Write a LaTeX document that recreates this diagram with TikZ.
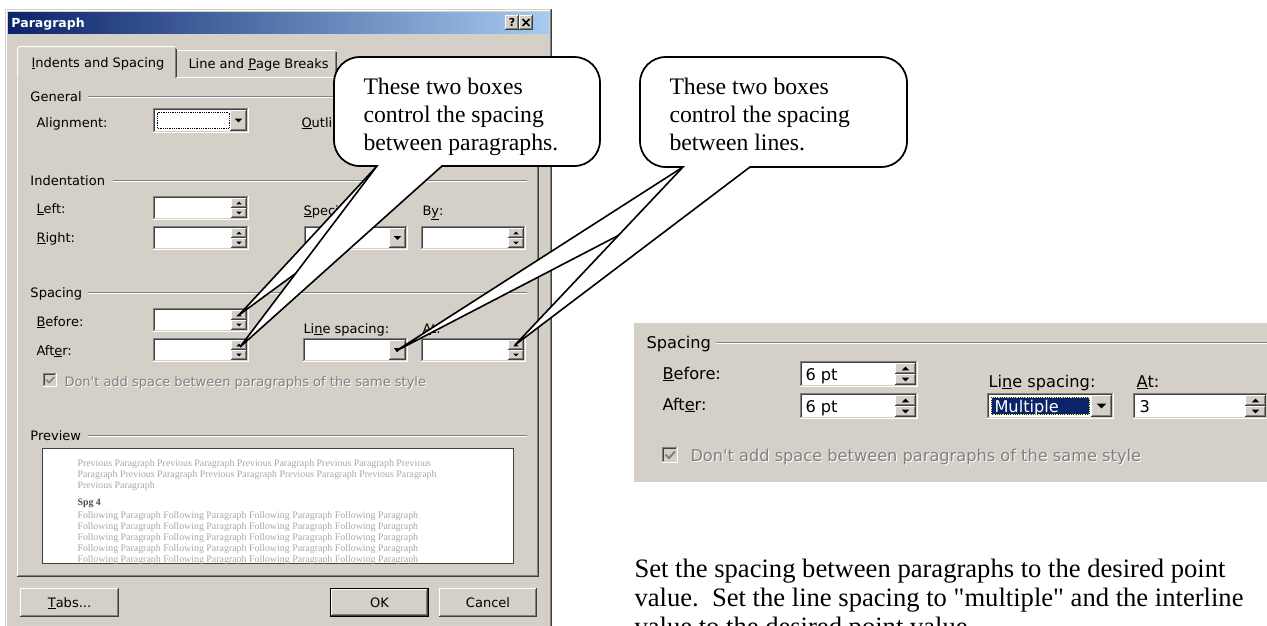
\documentclass[tikz,border=0pt]{standalone}
\usepackage{fontspec}
\setmainfont{Liberation Serif}
\newfontfamily\uifont{DejaVu Sans}
% plain family: straight typewriter quotes are kept as typed
\newfontfamily\bodyserif{Liberation Serif}

\definecolor{uiface}{HTML}{D4D0C8}
\definecolor{uishadow}{HTML}{808080}
\definecolor{uidark}{HTML}{404040}
\definecolor{titleL}{HTML}{0A246A}
\definecolor{titleR}{HTML}{A6CAF0}
\definecolor{selblue}{HTML}{0A246A}
\definecolor{prevgray}{HTML}{A8A8A8}

\tikzset{
  ui/.style={font=\uifont\fontsize{13}{15}\selectfont, inner sep=0pt, anchor=base west},
  uibig/.style={font=\uifont\fontsize{16.2}{19}\selectfont, inner sep=0pt, anchor=base west},
  uidis/.style={text=uishadow},
  note/.style={font=\fontsize{23.7}{28}\selectfont, inner sep=0pt, anchor=base west},
  body/.style={font=\bodyserif\fontsize{26.6}{30}\selectfont, inner sep=0pt, anchor=base west},
  prev/.style={font=\fontsize{9.9}{11}\selectfont, inner sep=0pt, anchor=base west, text=prevgray},
  balloon/.style={fill=white, draw=black, line width=1.6pt, line join=miter},
}

% classic raised 3D face: x1 y1 x2 y2 (pixel units, y downwards)
\newcommand\uiraised[4]{%
  \fill[uiface] ({#1},{#2}) rectangle ({#3},{#4});
  \draw[white] ({#1+.5},{#4-1}) -- ({#1+.5},{#2+.5}) -- ({#3-1},{#2+.5});
  \draw[uishadow] ({#1+1},{#4-1.5}) -- ({#3-1.5},{#4-1.5}) -- ({#3-1.5},{#2+1});
  \draw[uidark] ({#1},{#4-.5}) -- ({#3-.5},{#4-.5}) -- ({#3-.5},{#2});
}
% classic sunken field: x1 y1 x2 y2 fill
\newcommand\uisunken[5]{%
  \fill[#5] ({#1},{#2}) rectangle ({#3},{#4});
  \draw[uishadow] ({#1+.5},{#4-1}) -- ({#1+.5},{#2+.5}) -- ({#3-1},{#2+.5});
  \draw[uidark] ({#1+1.5},{#4-2}) -- ({#1+1.5},{#2+1.5}) -- ({#3-2},{#2+1.5});
  \draw[white] ({#1},{#4-.5}) -- ({#3-.5},{#4-.5}) -- ({#3-.5},{#2});
  \draw[uiface] ({#1+1},{#4-1.5}) -- ({#3-1.5},{#4-1.5}) -- ({#3-1.5},{#2+1});
}
% small arrow glyphs: centre x, centre y, half width
\newcommand\uiup[3]{\fill[black] ({#1-#3},{#2+#3/2}) -- ({#1+#3},{#2+#3/2}) -- ({#1},{#2-#3/2}) -- cycle;}
\newcommand\uidown[3]{\fill[black] ({#1-#3},{#2-#3/2}) -- ({#1+#3},{#2-#3/2}) -- ({#1},{#2+#3/2}) -- cycle;}
% spin box: x1 y1 x2 y2 button width
\newcommand\uispin[5]{%
  \uisunken{#1}{#2}{#3}{#4}{white}
  \pgfmathsetmacro\spmid{(#2+#4)/2}
  \pgfmathsetmacro\spl{#3-2-#5}
  \pgfmathsetmacro\spr{#3-2}
  \uiraised{\spl}{#2+2}{\spr}{\spmid}
  \uiraised{\spl}{\spmid}{\spr}{#4-2}
  \pgfmathsetmacro\spcx{(\spl+\spr)/2}
  \pgfmathsetmacro\sptw{#5*0.17}
  \uiup{\spcx}{(#2+2+\spmid)/2}{\sptw}
  \uidown{\spcx}{(\spmid+#4-2)/2}{\sptw}
}
% drop-down box: x1 y1 x2 y2 button width
\newcommand\uicombo[5]{%
  \uisunken{#1}{#2}{#3}{#4}{white}
  \pgfmathsetmacro\cbl{#3-2-#5}
  \uiraised{\cbl}{#2+2}{#3-2}{#4-2}
  \uidown{(\cbl+#3-2)/2}{(#2+#4)/2}{#5*0.22}
}
% etched group rule: x1 x2 y
\newcommand\uietch[3]{%
  \draw[uishadow] ({#1},{#3+.5}) -- ({#2},{#3+.5});
  \draw[white] ({#1},{#3+1.5}) -- ({#2},{#3+1.5});
}
% rounded balloon with one tail: x1 y1 x2 y2, tail base left/right x, tail tip
\newcommand\balloonshape[7]{%
  \draw[balloon] ({#6},{#4}) -- ({#3-26},{#4})
    .. controls ({#3-11.6},{#4}) and ({#3},{#4-11.6}) .. ({#3},{#4-26})
    -- ({#3},{#2+26})
    .. controls ({#3},{#2+11.6}) and ({#3-11.6},{#2}) .. ({#3-26},{#2})
    -- ({#1+26},{#2})
    .. controls ({#1+11.6},{#2}) and ({#1},{#2+11.6}) .. ({#1},{#2+26})
    -- ({#1},{#4-26})
    .. controls ({#1},{#4-11.6}) and ({#1+11.6},{#4}) .. ({#1+26},{#4})
    -- ({#5},{#4}) -- (#7) -- cycle;}

\begin{document}
\begin{tikzpicture}[x=1pt,y=-1pt,line width=1pt]
\useasboundingbox (0,0) rectangle (1267,625);
\clip (0,0) rectangle (1267,625);
\fill[white] (0,0) rectangle (1267,625);

% ---------------- Paragraph dialog ----------------
\fill[uiface] (5,9) rectangle (552,640);
\draw[white] (6.5,10) -- (6.5,640);
\draw[white] (6,10.5) -- (550,10.5);
\draw[uishadow] (550.5,10) -- (550.5,640);
\draw[uidark] (551.5,9) -- (551.5,640);

% caption bar
\shade[left color=titleL, right color=titleR] (8,12) rectangle (549,33);
\node[font=\uifont\bfseries\fontsize{12.5}{14}\selectfont, text=white, inner sep=0pt, anchor=base west] (title) at (11,27) {Paragraph};
\uiraised{505}{15}{519}{30}
\node[font=\uifont\bfseries\fontsize{11}{12}\selectfont, inner sep=0pt] (helpq) at (512,22.5) {?};
\uiraised{519}{15}{533}{30}
\draw[line width=1.5pt] (522.5,19) -- (529.5,26) (529.5,19) -- (522.5,26);

% tab panel
\draw[white] (17.5,576) -- (17.5,77.5) -- (538,77.5);
\draw[uishadow] (18,575.5) -- (537.5,575.5) -- (537.5,78);
\draw[uidark] (17,576.5) -- (538.5,576.5) -- (538.5,77);

% inactive tab
\draw[white] (177,50.5) -- (335,50.5);
\draw[uishadow] (335.5,51.5) -- (335.5,77);
\draw[uidark] (336.5,52) -- (336.5,77);
\node[ui] (tabB) at (188,68) {Line and \underline{P}age Breaks};

% active tab
\fill[uiface] (17,46) rectangle (177,79);
\draw[white] (17.5,78) -- (17.5,48.5) -- (19.5,46.5) -- (175,46.5);
\draw[uishadow] (175.5,47.5) -- (175.5,78);
\draw[uidark] (176.5,48.5) -- (176.5,77);
\node[ui] (tabA) at (31,67) {\underline{I}ndents and Spacing};

% General
\node[ui] (gGeneral) at (30,101) {General};
\uietch{88}{527}{96}
\node[ui] (lAlign) at (36,127) {Alignment:};
\uicombo{153}{108}{249}{133}{17}
\draw[densely dotted, line width=.8pt] (157.5,112.5) rectangle (229,128.5);
\node[ui] (lOutline) at (301,127) {\underline{O}utli};

% Indentation
\node[ui] (gIndent) at (30,185) {Indentation};
\uietch{113}{527}{180}
\node[ui] (lLeft) at (36,213) {\underline{L}eft:};
\uispin{153}{196}{249}{220}{16}
\node[ui] (lRight) at (36,242) {\underline{R}ight:};
\uispin{153}{226}{249}{250}{16}
\node[ui] (lSpecial) at (303,215) {\underline{S}peci};
\uicombo{304}{226}{408}{250}{17}
\node[ui] (lBy) at (422,215) {B\underline{y}:};
\uispin{421}{226}{526}{250}{16}

% Spacing
\node[ui] (gSpacing) at (30,297) {Spacing};
\uietch{88}{527}{292}
\node[ui] (lBefore) at (36,326) {\underline{B}efore:};
\uispin{153}{308}{249}{332}{16}
\node[ui] (lAfter) at (36,355) {Aft\underline{e}r:};
\uispin{153}{338}{249}{362}{16}
\node[ui] (lLine) at (303,333) {Li\underline{n}e spacing:};
\uicombo{303}{338}{408}{362}{17}
\node[ui] (lAt) at (422,333) {\underline{A}t:};
\uispin{421}{338}{526}{362}{16}

\uisunken{43}{373}{57}{387}{uiface}
\draw[uishadow, line width=1.6pt] (46,379.5) -- (49,382.5) -- (54.5,377);
\node[ui, text=white] (lNoAddSh) at (65,387) {Don't add space between paragraphs of the same style};
\node[ui, uidis] (lNoAdd) at (64,386) {Don't add space between paragraphs of the same style};

% Preview
\node[ui] (gPreview) at (30,440) {Preview};
\uietch{88}{527}{435}
\fill[white] (42,448) rectangle (514,564);
\draw[uidark] (42.5,448.5) rectangle (513.5,563.5);
\begin{scope}
  \clip (43,449) rectangle (513,563);
  \node[prev] (pv1) at (77,466) {Previous Paragraph Previous Paragraph Previous Paragraph Previous Paragraph Previous};
  \node[prev] (pv2) at (77,477) {Paragraph Previous Paragraph Previous Paragraph Previous Paragraph Previous Paragraph};
  \node[prev] (pv3) at (77,488) {Previous Paragraph};
  \node[prev, text=black!70, font=\bfseries\fontsize{9.9}{11}\selectfont] (pv4) at (77,505) {Spg 4};
  \foreach \yy [count=\i] in {518,529,540,551,562}
    \node[prev] (pf\i) at (77,\yy) {Following Paragraph Following Paragraph Following Paragraph Following Paragraph};
\end{scope}

% buttons
\uiraised{20}{588}{119}{617}
\node[ui, anchor=base] (bTabs) at (69.5,607) {\underline{T}abs...};
\draw[black] (330.5,588.5) rectangle (428.5,616.5);
\uiraised{331}{589}{428}{616}
\node[ui, anchor=base] (bOK) at (379.5,607) {OK};
\uiraised{439}{588}{537}{617}
\node[ui, anchor=base] (bCancel) at (488,607) {Cancel};

% ---------------- enlarged spacing group ----------------
\fill[uiface] (634,323) rectangle (1267,482);
\node[uibig] (rSpacing) at (646,348) {Spacing};
\uietch{716}{1267}{342}
\node[uibig] (rBefore) at (662,379) {\underline{B}efore:};
\uispin{800}{361}{918}{387}{21}
\node[uibig] (rBeforeV) at (805,380) {6 pt};
\node[uibig] (rAfter) at (662,410) {Aft\underline{e}r:};
\uispin{800}{393}{918}{419}{21}
\node[uibig] (rAfterV) at (805,412) {6 pt};
\node[uibig] (rLine) at (988,387) {Li\underline{n}e spacing:};
\uicombo{987}{393}{1114}{419}{21}
\fill[selblue] (991,397) rectangle (1090,415);
\draw[densely dotted, yellow!70!white, line width=.8pt] (991.5,397.5) rectangle (1089.5,414.5);
\node[uibig, text=white] (rLineV) at (994,412) {Multiple};
\node[uibig] (rAt) at (1136,387) {\underline{A}t:};
\uispin{1133}{393}{1268}{419}{21}
\node[uibig] (rAtV) at (1139,412) {3};
\uisunken{662}{447}{678}{463}{uiface}
\draw[uishadow, line width=2pt] (665.5,454.5) -- (669,458) -- (675,451.5);
\node[uibig, text=white] (rNoAddSh) at (691,462) {Don't add space between paragraphs of the same style};
\node[uibig, uidis] (rNoAdd) at (690,461) {Don't add space between paragraphs of the same style};

% ---------------- explanation ----------------
\node[body] (t1) at (634,577) {Set the spacing between paragraphs to the desired point};
\node[body] (t2) at (634,606) {value.\ \ Set the line spacing to "multiple" and the interline};
\node[body] (t3) at (634,635) {value to the desired point value.};

% ---------------- balloons ----------------
\coordinate (tipBefore) at (239,315);
\coordinate (tipAfter) at (240,347);
\coordinate (tipLine) at (396,351);
\coordinate (tipAt) at (515,345);

\balloonshape{334}{57}{600}{166}{377}{442}{tipBefore}
\balloonshape{334}{57}{600}{166}{377}{442}{tipAfter}
\node[note] (c1a) at (363,94) {These two boxes};
\node[note] (c1b) at (363,122) {control the spacing};
\node[note] (c1c) at (363,150) {between paragraphs.};

\balloonshape{640}{57}{907}{167}{683}{750}{tipLine}
\balloonshape{640}{57}{907}{167}{683}{750}{tipAt}
\node[note] (c2a) at (669,94) {These two boxes};
\node[note] (c2b) at (669,122) {control the spacing};
\node[note] (c2c) at (669,150) {between lines.};
\end{tikzpicture}
\end{document}
